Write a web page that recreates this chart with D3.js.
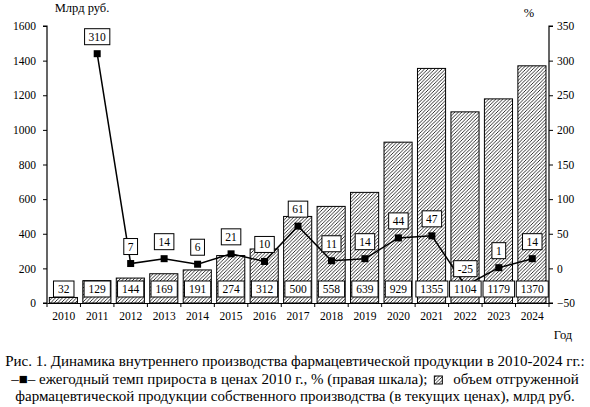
<!DOCTYPE html>
<html>
<head>
<meta charset="utf-8">
<script src="https://cdn.jsdelivr.net/npm/d3@7"></script>
<style>
  body { margin: 0; background: #fff; }
  text { font-family: "Liberation Serif", "Times New Roman", serif; fill: #000; }
</style>
</head>
<body>
<script>
// данные
var years = ['2010','2011','2012','2013','2014','2015','2016','2017','2018','2019','2020','2021','2022','2023','2024'];
var volume = [32, 129, 144, 169, 191, 274, 312, 500, 558, 639, 929, 1355, 1104, 1179, 1370]; // млрд руб.
var growth = [null, 310, 7, 14, 6, 21, 10, 61, 11, 14, 44, 47, -25, 1, 14]; // %
var leftTicks = [0, 200, 400, 600, 800, 1000, 1200, 1400, 1600];
var rightTicks = [-50, 0, 50, 100, 150, 200, 250, 300, 350];

var W = 590, H = 407;
var svg = d3.select('body').append('svg').attr('width', W).attr('height', H);

// штриховка
var hs = 3.5;
var defs = svg.append('defs');
var pat = defs.append('pattern').attr('id', 'hatch')
    .attr('patternUnits', 'userSpaceOnUse').attr('width', hs).attr('height', hs);
pat.append('rect').attr('width', hs).attr('height', hs).attr('fill', '#fff');
pat.append('path')
    .attr('d', 'M-1,1 l2,-2 M0,' + hs + ' l' + hs + ',-' + hs + ' M' + (hs - 1) + ',' + (hs + 1) + ' l2,-2')
    .attr('stroke', '#000').attr('stroke-width', 0.8);

// (top нельзя — занято window.top)
var pLeft = 47, pRight = 549, pTop = 26, pBottom = 303;

var x = d3.scaleBand().domain(years).range([pLeft, pRight]).padding(0);
var y = d3.scaleLinear().domain([0, 1600]).range([pBottom, pTop]);
var y2 = d3.scaleLinear().domain([-50, 350]).range([pBottom, pTop]);
var bw = x.bandwidth();

// столбцы
svg.append('g').selectAll('rect').data(volume).enter().append('rect')
    .attr('x', function(d, i){ return x(years[i]) + bw * 0.07; })
    .attr('width', bw * 0.84)
    .attr('y', function(d){ return y(d); })
    .attr('height', function(d){ return y(0) - y(d); })
    .attr('fill', 'url(#hatch)')
    .attr('stroke', '#000').attr('stroke-width', 1);

// оси
var gl = svg.append('g').attr('transform', 'translate(' + pLeft + ',0)')
    .call(d3.axisLeft(y).tickValues(leftTicks).tickFormat(d3.format('d')).tickSize(4).tickPadding(7));
var gr = svg.append('g').attr('transform', 'translate(' + pRight + ',0)')
    .call(d3.axisRight(y2).tickValues(rightTicks).tickFormat(d3.format('d')).tickSize(4).tickPadding(4));
var gb = svg.append('g').attr('transform', 'translate(0,' + pBottom + ')')
    .call(d3.axisBottom(x).tickSize(0).tickPadding(9));
gb.selectAll('.tick').append('line')
    .attr('x1', -bw / 2).attr('x2', -bw / 2).attr('y2', 4).attr('stroke', '#000');
gb.append('line').attr('x1', pRight).attr('x2', pRight).attr('y2', 4).attr('stroke', '#000');

[gl, gr, gb].forEach(function(g){
    g.attr('font-family', null);
    g.selectAll('path.domain').attr('stroke', '#000').attr('stroke-width', 1.2);
    g.selectAll('.tick line').attr('stroke', '#000');
    g.selectAll('text').style('font-family', '"Liberation Serif", serif').style('font-size', '11.5px').attr('fill', '#000');
});
gl.selectAll('path.domain').attr('d', 'M-4,' + pTop + 'H0V' + pBottom + 'H-4');
gr.selectAll('path.domain').attr('d', 'M4,' + pTop + 'H0V' + pBottom + 'H4');

// линия темпа прироста
var pts = growth.map(function(g, i){ return {year: years[i], g: g}; })
    .filter(function(p){ return p.g !== null; });
var line = d3.line()
    .x(function(p){ return x(p.year) + bw / 2; })
    .y(function(p){ return y2(p.g); });
svg.append('path').datum(pts).attr('d', line)
    .attr('fill', 'none').attr('stroke', '#000').attr('stroke-width', 1.5);
svg.append('g').selectAll('rect').data(pts).enter().append('rect')
    .attr('x', function(p){ return x(p.year) + bw / 2 - 3.5; })
    .attr('y', function(p){ return y2(p.g) - 3.5; })
    .attr('width', 7).attr('height', 7).attr('fill', '#000');

// подписи в рамках
function boxLabel(g, cx, cy, txt, pad) {
    var t = g.append('text').attr('x', cx).attr('y', cy + 4)
        .attr('text-anchor', 'middle').style('font-size', '11.5px').text(txt);
    var w = t.node().getComputedTextLength() + pad;
    g.insert('rect', 'text').attr('x', cx - w / 2).attr('y', cy - 8)
        .attr('width', w).attr('height', 16)
        .attr('fill', '#fff').attr('stroke', '#000').attr('stroke-width', 1);
}
pts.forEach(function(p){
    var g = svg.append('g');
    boxLabel(g, x(p.year) + bw / 2, y2(p.g) - 17, p.g, 8);
});
volume.forEach(function(v, i){
    var g = svg.append('g');
    boxLabel(g, x(years[i]) + bw / 2, y(0) - 14, v, 9);
});

// заголовки осей
svg.append('text').attr('x', 82).attr('y', 12).attr('text-anchor', 'middle')
    .style('font-size', '12.5px').text('Млрд руб.');
svg.append('text').attr('x', 529).attr('y', 17).attr('text-anchor', 'middle')
    .style('font-size', '12.5px').text('%');
svg.append('text').attr('x', 563).attr('y', 339).attr('text-anchor', 'middle')
    .style('font-size', '12.5px').text('Год');

// подпись к рисунку
var cx = 295, fs = '15px';
svg.append('text').attr('x', cx).attr('y', 366).attr('text-anchor', 'middle')
    .style('font-size', fs).text('Рис. 1. Динамика внутреннего производства фармацевтической продукции в 2010-2024 гг.:');

var l2 = svg.append('g');
var ta = l2.append('text').attr('y', 384).style('font-size', fs)
    .text('–■– ежегодный темп прироста в ценах 2010 г., % (правая шкала);');
var tb = l2.append('text').attr('y', 384).style('font-size', fs)
    .text('объем отгруженной');
var wa = ta.node().getComputedTextLength(), wb = tb.node().getComputedTextLength();
var gap = 26, x0 = cx - (wa + gap + wb) / 2;
ta.attr('x', x0);
tb.attr('x', x0 + wa + gap);
l2.append('rect').attr('x', x0 + wa + 7).attr('y', 376).attr('width', 8).attr('height', 8)
    .attr('fill', 'url(#hatch)').attr('stroke', '#000').attr('stroke-width', 1);

svg.append('text').attr('x', cx).attr('y', 401).attr('text-anchor', 'middle')
    .style('font-size', fs).text('фармацевтической продукции собственного производства (в текущих ценах), млрд руб.');
</script>
</body>
</html>
